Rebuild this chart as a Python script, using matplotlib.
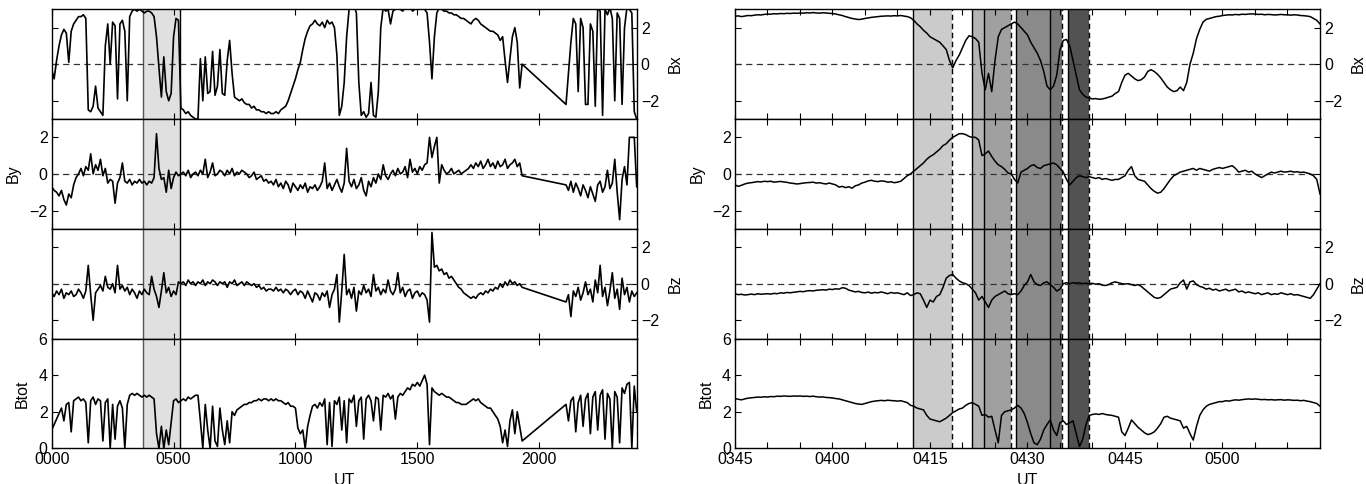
import numpy as np
import matplotlib
matplotlib.use("Agg")
import matplotlib.pyplot as plt

plt.rcParams['font.family'] = ['Liberation Sans', 'DejaVu Sans']
plt.rcParams['font.size'] = 11.5

# ---- whole day, hours UT, one value per 0.1 h (no data 19.3 - 21.1 h) ----
t_day = np.r_[np.arange(0, 194), np.arange(211, 241)] / 10.0

bx_day = [
    -0.3, -0.8, 0.2, 1.0, 1.6, 1.9, 1.7, 0.1, 1.8, 2.2,
    2.4, 2.6, 2.6, 2.7, 2.5, -2.5, -2.6, -2.3, -1.2, -2.4,
    -2.6, -2.8, 1.0, 2.2, 0.0, 2.3, 2.1, -1.9, 2.2, 2.4,
    1.8, -2.0, 2.6, 2.9, 3.0, 2.9, 3.0, 2.9, 2.8, 2.9,
    2.9, 2.8, 2.6, 1.5, -0.2, -1.8, 0.4, -1.5, -2.0, -1.6,
    1.5, 2.5, 2.4, -2.4, -2.5, -2.7, -2.6, -2.8, -2.9, -3.0,
    -3.0, 0.3, -2.0, 0.4, -1.6, -1.5, 0.7, -1.7, -1.2, 0.8,
    -1.6, -1.7, 0.2, 1.3, -0.5, -1.8, -1.9, -2.0, -1.9, -2.1,
    -2.2, -2.2, -2.4, -2.3, -2.5, -2.5, -2.6, -2.6, -2.7, -2.6,
    -2.7, -2.7, -2.6, -2.7, -2.5, -2.4, -2.3, -2.0, -1.6, -1.2,
    -0.8, -0.3, 0.1, 0.8, 1.4, 1.8, 2.1, 2.2, 2.4, 2.2,
    2.1, 2.3, 2.0, 2.4, 2.2, 2.3, 2.0, 0.5, -2.8, -2.3,
    -1.0, 1.5, 3.0, 3.2, 3.2, 2.8, -1.0, -2.8, -2.6, -2.9,
    -2.7, -1.0, -2.8, -2.9, -1.5, 2.0, 3.1, 2.9, 3.0, 2.2,
    2.9, 3.0, 3.2, 3.0, 2.9, 3.1, 3.0, 3.2, 2.9, 3.0,
    3.1, 3.0, 3.2, 3.0, 2.8, 1.2, -0.8, 1.5, 2.8, 3.1,
    3.0, 2.9, 2.9, 2.8, 2.8, 2.7, 2.7, 2.6, 2.5, 2.5,
    2.4, 2.3, 2.2, 2.4, 2.5, 2.4, 2.2, 2.1, 2.0, 1.9,
    1.8, 1.8, 1.7, 1.6, 1.3, 1.5, 0.2, -1.0, 0.3, 1.5,
    2.0, 1.2, -1.3, 0.0,
    -2.2, -0.5, 1.2, 2.5, 2.2, -1.5, 2.5, 2.0, -2.2,
    -2.2, 2.2, 1.8, -2.3, 3.1, 2.9, -2.8, 3.0, 2.7, 3.1,
    2.5, -2.0, 2.8, 2.5, -2.2, 2.0, 3.1, 3.0, 2.8, -2.6,
    -3.0]

by_day = [
    -0.7, -0.9, -1.0, -1.2, -0.9, -1.4, -1.7, -1.1, -1.3, -0.6,
    -0.2, 0.0, 0.3, -0.1, 0.4, 0.2, 1.1, 0.0, 0.5, 0.2,
    0.8, -0.1, 0.3, -0.5, -0.3, -0.4, -1.6, -0.5, -0.2, 0.6,
    -0.4, -0.5, -0.3, -0.6, -0.4, -0.5, -0.3, -0.5, -0.4, -0.6,
    -0.4, -0.5, -0.2, 2.2, 0.3, -0.3, -0.2, -1.0, 0.2, -0.8,
    -0.2, 0.1, -0.1, 0.0, 0.1, -0.1, 0.2, -0.2, 0.0, 0.1,
    -0.1, 0.2, 0.0, 0.8, -0.2, 0.1, 0.6, -0.1, 0.0, 0.2,
    0.1, -0.1, 0.2, 0.0, 0.3, -0.1, 0.1, 0.0, 0.2, 0.1,
    0.0, -0.2, -0.1, 0.1, -0.3, -0.2, -0.1, -0.4, -0.3, -0.5,
    -0.4, -0.6, -0.3, -0.7, -0.5, -0.8, -0.4, -0.6, -1.0, -0.5,
    -0.7, -0.9, -0.6, -0.8, -0.5, -1.0, -0.7, -0.8, -0.6, -0.9,
    -0.7, -0.4, 0.6, -0.8, -0.5, -0.9, -0.6, -0.3, -0.7, -1.0,
    -0.5, 1.4, -0.4, -0.7, -0.3, -0.8, -0.6, -0.2, -0.9, -1.2,
    -0.4, -0.7, -0.2, -0.5, 0.0, -0.3, 0.5, -0.1, -0.3, 0.0,
    0.2, -0.1, 0.3, 0.0, 0.1, 0.4, -0.2, 0.8, 0.1, 0.3,
    0.0, 0.4, 0.2, 0.5, 0.6, 2.0, 0.9, 1.5, 2.0, -0.5,
    0.5, 0.2, 0.0, 0.1, 0.3, 0.0, 0.1, 0.2, 0.0, 0.1,
    0.2, 0.3, 0.5, 0.3, 0.6, 0.4, 0.7, 0.3, 0.5, 0.8,
    0.4, 0.6, 0.3, 0.7, 0.4, 0.5, 0.8, 0.3, 0.5, 0.6,
    0.8, 0.4, 0.6, -0.1,
    -0.6, -0.9, -0.4, -1.0, -0.5, -0.8, -1.2, -0.6, -0.9,
    -1.3, -0.7, -1.1, -1.5, -0.6, -0.4, -1.0, -0.7, 0.2, -0.8,
    -0.5, 0.8, -1.0, -2.5, -0.3, 0.4, -0.6, 2.0, 2.0, 2.0,
    -0.7]

bz_day = [
    -0.5, -0.7, -0.4, -0.6, -0.3, -0.8, -0.5, -0.6, -0.4, -0.7,
    -0.6, -0.3, -0.5, -0.8, -0.4, 1.0, -0.6, -2.0, -0.5, -0.3,
    -0.1, -0.4, 0.4, -0.2, -0.3, 0.0, -0.5, 1.0, -0.3, -0.1,
    -0.4, -0.2, -0.6, -0.3, -0.5, -0.8, -0.4, -0.6, -0.3, -0.5,
    -0.6, 0.4, -0.3, -0.7, -1.3, -0.4, 0.6, -0.5, -0.2, -0.7,
    -0.4, -0.6, 0.1, 0.0, 0.1, -0.1, 0.2, 0.0, 0.1, -0.1,
    0.1, 0.0, 0.2, -0.1, 0.1, 0.0, 0.2, 0.1, -0.1, 0.1,
    0.0, 0.1, -0.2, 0.1, 0.0, 0.2, -0.1, 0.0, 0.1, -0.1,
    0.1, 0.0, -0.1, 0.0, -0.2, -0.1, -0.3, -0.2, -0.4, -0.3,
    -0.3, -0.4, -0.2, -0.4, -0.3, -0.5, -0.3, -0.4, -0.6, -0.4,
    -0.3, -0.6, -0.4, -0.5, -0.8, -0.4, -0.7, -1.0, -0.5, -0.6,
    -0.9, -0.5, -0.7, -0.4, -1.3, -0.6, -0.3, 0.5, -2.1, -0.4,
    1.6, -0.6, -0.3, -0.8, -0.2, -1.5, -0.4, -0.6, -0.1, -0.5,
    -0.3, -0.7, 0.5, -0.4, -0.2, -0.6, -0.3, -0.5, 0.2, -0.4,
    -0.6, -0.3, 0.6, -0.5, -0.2, -0.7, -0.4, -0.3, -0.8, -0.5,
    -0.4, -0.7, -0.5, -0.6, -0.9, -2.1, 2.8, 0.9, 1.0, 0.7,
    0.8, 0.5, 0.6, 0.3, 0.4, 0.2, 0.0, -0.2, -0.3, -0.5,
    -0.6, -0.7, -0.8, -0.7, -0.8, -0.6, -0.5, -0.6, -0.4, -0.5,
    -0.3, -0.4, -0.2, -0.3, 0.0, -0.2, 0.1, -0.1, 0.2, 0.0,
    0.1, -0.1, 0.0, -0.2,
    -1.0, -0.6, -1.8, -0.4, -0.7, -0.2, -0.9, -0.5, 0.1,
    -0.6, -0.3, -1.0, 0.2, -0.5, 1.0, -0.7, -0.2, -1.2, -0.4,
    0.6, -0.8, -0.3, -1.4, 0.3, -0.6, -0.2, -1.0, -0.4, -0.7,
    -0.5]

bt_day = [
    1.0, 1.3, 1.6, 1.9, 2.2, 1.5, 2.4, 2.5, 0.9, 2.6,
    2.7, 2.8, 2.6, 2.7, 2.5, 0.3, 2.6, 2.8, 2.4, 2.7,
    2.6, 0.4, 2.5, 2.7, 0.0, 2.4, 0.5, 2.3, 2.6, 2.2,
    0.0, 2.4, 2.9, 3.0, 2.9, 3.0, 2.9, 2.8, 2.9, 2.8,
    2.9, 2.8, 2.7, 0.8, 0.0, 1.2, 0.0, 1.0, 0.2, 1.4,
    2.6, 2.7, 2.5, 2.6, 2.7, 2.6, 2.8, 2.7, 2.8, 2.9,
    2.9, 1.5, 0.0, 2.4, 1.0, 0.0, 2.3, 0.4, 0.1, 2.2,
    1.0, 0.2, 1.5, 0.3, 2.0, 1.8, 2.1, 2.2, 2.3, 2.4,
    2.4, 2.5, 2.5, 2.6, 2.6, 2.7, 2.6, 2.7, 2.7, 2.6,
    2.7, 2.6, 2.7, 2.6, 2.6, 2.5, 2.4, 2.5, 2.3, 2.3,
    2.2, 1.1, 0.8, 1.0, 0.0, 1.2, 1.8, 2.3, 2.4, 2.2,
    2.5, 2.3, 2.7, 0.2, 2.5, 0.1, 2.6, 2.4, 2.8, 1.0,
    2.6, 0.3, 2.7, 2.5, 2.9, 1.2, 2.6, 2.8, 0.5, 2.7,
    2.9, 2.6, 1.5, 2.8, 2.7, 1.0, 2.9, 2.8, 3.0, 2.7,
    2.9, 1.6, 2.8, 3.0, 2.9, 3.1, 3.3, 3.2, 3.5, 3.4,
    3.6, 3.4, 3.7, 4.0, 3.5, 0.2, 3.3, 3.1, 3.0, 2.9,
    3.0, 2.9, 2.8, 2.8, 2.7, 2.6, 2.5, 2.5, 2.4, 2.4,
    2.4, 2.5, 2.6, 2.7, 2.6, 2.7, 2.5, 2.4, 2.3, 2.2,
    2.2, 2.0, 1.8, 1.6, 1.2, 0.3, 1.0, 0.1, 1.5, 2.1,
    0.8, 2.0, 1.2, 0.4,
    2.4, 1.5, 2.6, 2.8, 0.9, 2.5, 2.9, 1.2, 2.7,
    3.0, 0.8, 2.8, 3.1, 1.0, 2.9, 3.2, 0.5, 3.0, 2.7,
    0.0, 3.1, 2.8, 0.3, 3.3, 3.0, 3.5, 3.6, 0.0, 3.4,
    2.0]

# ---- 0345-0515 UT, minutes after 0345, one value per 0.5 min ----
t_zoom = np.arange(181) / 2.0

bx_zoom = [
    2.62, 2.64, 2.6, 2.63, 2.66, 2.65, 2.68, 2.7, 2.69, 2.72,
    2.74, 2.73, 2.76, 2.75, 2.77, 2.76, 2.78, 2.77, 2.79, 2.78,
    2.8, 2.79, 2.81, 2.8, 2.82, 2.8, 2.79, 2.81, 2.8, 2.78,
    2.77, 2.74, 2.7, 2.66, 2.6, 2.55, 2.5, 2.47, 2.44, 2.46,
    2.5, 2.53, 2.56, 2.58, 2.6, 2.62, 2.63, 2.64, 2.63, 2.65,
    2.64, 2.66, 2.63, 2.6, 2.54, 2.4, 2.2, 2.05, 1.85, 1.7,
    1.5, 1.4, 1.3, 1.2, 1.0, 0.8, 0.2, -0.2, 0.2, 0.5,
    0.9, 1.3, 1.55, 1.5, 1.4, 1.2, -0.5, -1.4, -0.5, -1.5,
    0.2, 1.5, 1.9, 2.0, 2.1, 2.2, 2.3, 2.2, 2.0, 1.8,
    1.6, 1.2, 0.9, 0.6, 0.2, -0.4, -1.2, -1.4, -1.2, -0.6,
    0.8, 1.3, 1.35, 1.0, 0.2, -0.6, -1.4, -1.65, -1.8, -1.85,
    -1.9, -1.88, -1.92, -1.9, -1.86, -1.8, -1.75, -1.6, -1.5, -1.0,
    -0.6, -0.5, -0.65, -0.8, -0.9, -0.85, -0.7, -0.4, -0.3, -0.4,
    -0.55, -0.75, -1.0, -1.25, -1.4, -1.5, -1.45, -1.25, -1.45, -1.0,
    0.0, 0.6, 1.4, 1.9, 2.3, 2.45, 2.5, 2.55, 2.6, 2.62,
    2.66, 2.68, 2.7, 2.69, 2.72, 2.7, 2.73, 2.72, 2.74, 2.75,
    2.74, 2.72, 2.73, 2.7, 2.72, 2.71, 2.69, 2.7, 2.72, 2.7,
    2.7, 2.68, 2.7, 2.69, 2.66, 2.65, 2.63, 2.6, 2.5, 2.4,
    2.2]

by_zoom = [
    -0.6, -0.68, -0.62, -0.55, -0.5, -0.48, -0.45, -0.42, -0.44, -0.4,
    -0.42, -0.4, -0.45, -0.43, -0.41, -0.44, -0.46, -0.5, -0.52, -0.55,
    -0.53, -0.5, -0.48, -0.47, -0.45, -0.5, -0.48, -0.52, -0.55, -0.5,
    -0.55, -0.6, -0.72, -0.68, -0.75, -0.7, -0.78, -0.65, -0.6, -0.5,
    -0.45, -0.38, -0.35, -0.4, -0.42, -0.38, -0.4, -0.45, -0.43, -0.48,
    -0.45, -0.4, -0.25, -0.1, 0.0, 0.15, 0.3, 0.45, 0.6, 0.8,
    0.95, 1.05, 1.2, 1.35, 1.55, 1.65, 1.85, 2.0, 2.1, 2.2,
    2.2, 2.15, 2.05, 2.0, 2.0, 1.85, 1.0, 1.1, 1.25, 0.95,
    0.7, 0.5, 0.4, 0.25, 0.05, 0.0, -0.3, -0.5, 0.1, 0.2,
    0.3, 0.45, 0.5, 0.35, 0.3, 0.45, 0.5, 0.55, 0.6, 0.5,
    0.3, 0.1, -0.3, -0.6, -0.4, -0.2, -0.1, -0.15, -0.2, -0.15,
    -0.2, -0.25, -0.2, -0.3, -0.25, -0.3, -0.35, -0.3, -0.3, -0.2,
    -0.1, 0.2, 0.4, -0.1, -0.3, -0.35, -0.4, -0.6, -0.8, -0.95,
    -1.05, -1.0, -0.8, -0.55, -0.3, -0.1, 0.0, 0.1, 0.15, 0.2,
    0.25, 0.3, 0.2, 0.3, 0.25, 0.2, 0.15, 0.25, 0.3, 0.35,
    0.3, 0.35, 0.4, 0.45, 0.3, 0.1, 0.15, 0.2, 0.1, 0.15,
    0.0, -0.1, -0.2, -0.1, 0.0, 0.1, 0.05, 0.1, 0.15, 0.1,
    0.12, 0.15, 0.1, 0.12, 0.08, 0.1, 0.05, 0.0, -0.1, -0.3,
    -1.1]

bz_zoom = [
    -0.55, -0.6, -0.58, -0.62, -0.6, -0.57, -0.6, -0.55, -0.58, -0.56,
    -0.55, -0.57, -0.53, -0.55, -0.5, -0.52, -0.48, -0.5, -0.47, -0.45,
    -0.42, -0.44, -0.4, -0.38, -0.4, -0.36, -0.35, -0.33, -0.35, -0.3,
    -0.32, -0.28, -0.3, -0.22, -0.25, -0.35, -0.4, -0.45, -0.42, -0.48,
    -0.5, -0.46, -0.52, -0.48, -0.5, -0.45, -0.5, -0.55, -0.48, -0.52,
    -0.5, -0.55, -0.6, -0.5, -0.65, -0.6, -0.5, -0.55, -0.9, -1.3,
    -0.9, -1.0, -0.7, -0.6, -0.2, 0.3, 0.45, 0.5, 0.3, 0.15,
    0.05, 0.0, -0.1, -0.3, -0.5, -0.9, -0.7, -1.0, -1.3, -0.9,
    -0.7, -0.6, -0.5, -0.4, -0.55, -0.6, -0.55, -0.6, -0.4, -0.1,
    0.1, 0.5, 0.1, -0.05, -0.1, 0.05, 0.1, -0.05, -0.2, -0.4,
    -0.3, 0.0, 0.05, 0.0, 0.05, 0.03, 0.05, 0.0, 0.02, 0.0,
    0.02, -0.03, 0.0, -0.08, -0.1, -0.05, 0.05, 0.1, 0.05, 0.0,
    -0.02, 0.0, -0.05, -0.1, -0.05, -0.15, -0.3, -0.45, -0.6, -0.75,
    -0.8, -0.75, -0.6, -0.45, -0.3, -0.25, -0.2, 0.05, 0.2, -0.3,
    0.1, 0.15, -0.05, -0.15, -0.2, -0.3, -0.25, -0.35, -0.3, -0.4,
    -0.35, -0.3, -0.4, -0.35, -0.3, -0.45, -0.4, -0.5, -0.45, -0.5,
    -0.55, -0.5, -0.6, -0.55, -0.5, -0.6, -0.55, -0.58, -0.5, -0.55,
    -0.6, -0.55, -0.62, -0.6, -0.65, -0.7, -0.75, -0.8, -0.6, -0.3,
    0.0]

bt_zoom = [
    2.72, 2.68, 2.65, 2.7, 2.74, 2.76, 2.78, 2.8, 2.79, 2.82,
    2.8, 2.83, 2.82, 2.85, 2.84, 2.86, 2.85, 2.84, 2.86, 2.85,
    2.86, 2.84, 2.85, 2.83, 2.85, 2.82, 2.8, 2.81, 2.78, 2.77,
    2.75, 2.72, 2.7, 2.65, 2.6, 2.55, 2.5, 2.45, 2.42, 2.4,
    2.45, 2.5, 2.55, 2.58, 2.6, 2.62, 2.6, 2.63, 2.61, 2.6,
    2.58, 2.6, 2.55, 2.5, 2.35, 2.3, 2.2, 2.15, 2.1, 1.8,
    1.6, 1.55, 1.5, 1.45, 1.55, 1.65, 1.8, 1.95, 2.05, 2.15,
    2.2, 2.35, 2.45, 2.5, 2.4, 2.3, 1.8, 1.85, 1.7, 1.75,
    1.0, 0.3, 1.8, 2.0, 2.05, 2.1, 2.2, 2.35, 2.2, 1.9,
    1.4, 0.8, 0.3, 0.2, 0.5, 1.0, 1.3, 1.55, 1.0, 0.7,
    1.4, 1.5, 1.3, 1.4, 1.5, 0.8, 0.1, 0.5, 1.3, 1.8,
    1.85, 1.88, 1.85, 1.9, 1.85, 1.82, 1.8, 1.75, 1.7, 0.9,
    0.7, 1.1, 1.55, 1.35, 1.15, 1.0, 0.85, 0.75, 0.8, 0.9,
    1.1, 1.35, 1.7, 1.75, 1.65, 1.6, 1.55, 1.5, 1.1, 1.2,
    0.8, 0.45, 1.2, 1.8, 2.1, 2.3, 2.4, 2.45, 2.5, 2.55,
    2.55, 2.6, 2.58, 2.62, 2.65, 2.63, 2.66, 2.68, 2.7, 2.68,
    2.7, 2.68, 2.66, 2.67, 2.65, 2.66, 2.64, 2.65, 2.66, 2.63,
    2.65, 2.64, 2.62, 2.63, 2.6, 2.62, 2.58, 2.55, 2.5, 2.45,
    2.3]

names = ['Bx', 'By', 'Bz', 'Btot']

day_ticks = [0, 5, 10, 15, 20]
day_labels = ['0000', '0500', '1000', '1500', '2000']
zoom_ticks = list(range(0, 90, 5))
zoom_labels = ['0345', '', '', '0400', '', '', '0415', '', '', '0430', '', '',
               '0445', '', '', '0500', '', '']

# window of the right column, hours UT
window = (3.75, 5.25)

# intervals marked on the right column, minutes after 0345
ev_start = [27.4, 36.4, 38.3, 43.3, 48.4, 51.3]
ev_end = [33.4, 38.3, 42.4, 48.4, 50.3, 54.4]
ev_gray = ['#cbcbcb', '#b4b4b4', '#a0a0a0', '#8a8a8a', '#787878', '#525252']
ev_solid = [27.4, 36.4, 38.3, 43.3, 48.4, 51.3]
ev_dashed = [33.4, 42.4, 50.3, 54.4]


def shade_day(ax):
    ax.axvspan(window[0], window[1], color='#e0e0e0', lw=0, zorder=0)
    ax.axvline(window[0], color='#555555', lw=1.0, zorder=1)
    ax.axvline(window[1], color='k', lw=1.0, zorder=1)


def shade_zoom(ax):
    for a, b, c in zip(ev_start, ev_end, ev_gray):
        ax.axvspan(a, b, color=c, lw=0, zorder=0)
    for x in ev_solid:
        ax.axvline(x, color='k', lw=1.0, zorder=1)
    for x in ev_dashed:
        ax.axvline(x, color='k', lw=1.0, ls=(0, (4, 2.5)), zorder=1)


fig = plt.figure(figsize=(13.66, 4.84), dpi=100)
W, H = 1366.0, 484.0
bottom = (H - 448.3) / H
ph = 109.75 / H
pw = 585.0 / W


def column(x0, t, series, xlim, ticks, labels, shade, lw):
    for i, (name, y) in enumerate(zip(names, series)):
        ax = fig.add_axes([x0 / W, bottom + (3 - i) * ph, pw, ph])
        shade(ax)
        ax.plot(t, y, color='k', lw=lw, zorder=3)
        if name == 'Btot':
            ax.set_ylim(0, 6)
            ax.set_yticks([0, 2, 4, 6])
        else:
            ax.axhline(0, color='#333333', lw=0.9, ls=(0, (5, 3.5)), zorder=2)
            ax.set_ylim(-3, 3)
            ax.set_yticks([-2, 0, 2])
        ax.set_xlim(*xlim)
        ax.set_xticks(ticks)
        ax.tick_params(direction='in', top=True, right=True, length=4,
                       width=0.8, pad=3)
        if i % 2 == 0:
            ax.tick_params(labelleft=False, labelright=True)
            ax.yaxis.set_label_position('right')
        ax.set_ylabel(name, labelpad=6)
        for s in ax.spines.values():
            s.set_linewidth(1.0)
        if i < 3:
            ax.set_xticklabels([])
        else:
            ax.set_xticklabels(labels)
            ax.set_xlabel('UT', labelpad=4)


column(51.7, t_day, [bx_day, by_day, bz_day, bt_day], (0, 24),
       day_ticks, day_labels, shade_day, 1.2)
column(735.0, t_zoom, [bx_zoom, by_zoom, bz_zoom, bt_zoom], (0, 90),
       zoom_ticks, zoom_labels, shade_zoom, 1.1)

fig.savefig('out.png', dpi=100)
